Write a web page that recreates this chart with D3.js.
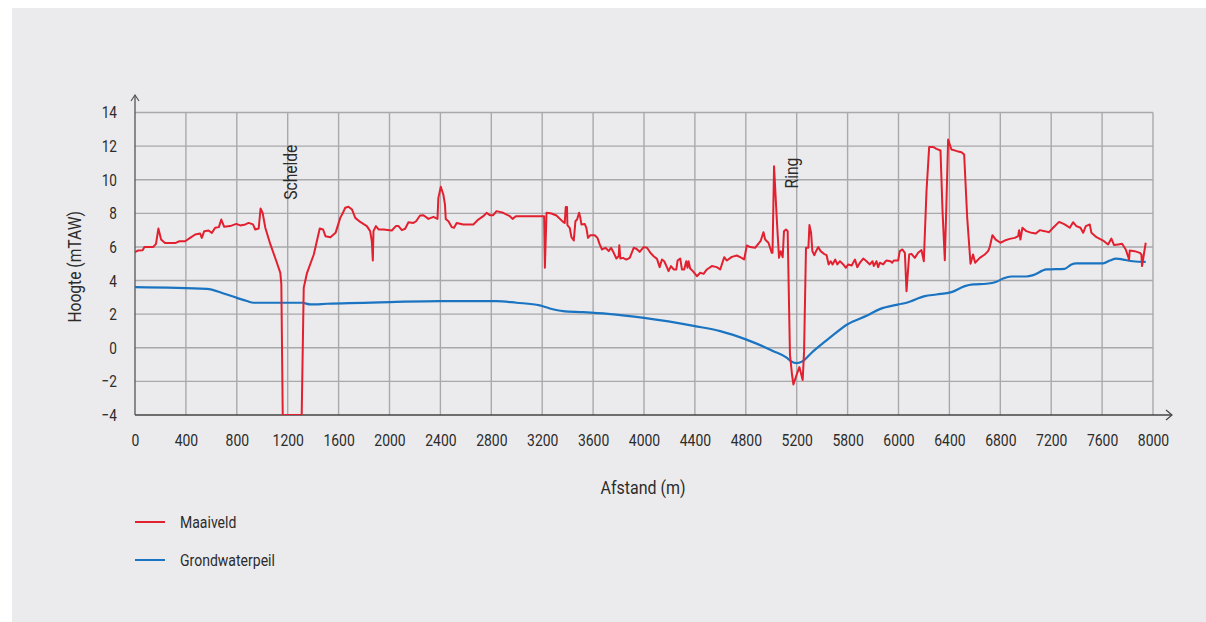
<!DOCTYPE html>
<html><head><meta charset="utf-8">
<script src="https://cdn.jsdelivr.net/npm/d3@7/dist/d3.min.js"></script>
<style>
html,body{margin:0;padding:0;background:#fff;}
svg{display:block;}
text{font-family:"Roboto",sans-serif;fill:#2b2b2b;}
</style></head>
<body>
<svg id="chart" width="1206" height="622"></svg>
<script>
// Maaiveld (ground level) — distance (m), height (mTAW)
const maaiveldX = [0,26,60,74,105,144,165,184,205,236,315,349,394,433,473,512,525,544,578,604,630,659,678,701,748,796,827,867,893,927,945,972,987,1003,1024,1064,1111,1142,1150,1161,1310,1326,1352,1405,1452,1478,1497,1536,1576,1613,1634,1652,1678,1705,1731,1770,1822,1848,1861,1869,1874,1893,1914,1953,2018,2050,2071,2097,2123,2149,2188,2209,2240,2267,2306,2345,2377,2384,2403,2423,2436,2442,2463,2489,2507,2528,2580,2659,2698,2737,2763,2789,2815,2841,2893,2946,2967,2993,3103,3215,3221,3234,3273,3312,3364,3377,3385,3395,3398,3416,3430,3448,3461,3474,3490,3500,3508,3534,3547,3560,3579,3613,3634,3652,3670,3697,3723,3741,3762,3783,3801,3806,3814,3835,3861,3888,3919,3940,3966,3997,4024,4050,4076,4102,4123,4141,4159,4180,4193,4212,4233,4254,4264,4285,4298,4316,4332,4342,4350,4363,4384,4416,4442,4468,4494,4533,4572,4599,4630,4651,4690,4729,4768,4787,4808,4834,4873,4899,4918,4939,4952,4978,4991,5004,5010,5022,5043,5061,5074,5090,5100,5116,5129,5147,5163,5174,5200,5221,5247,5258,5273,5292,5300,5313,5323,5339,5352,5370,5388,5414,5435,5451,5467,5482,5503,5519,5540,5566,5587,5605,5632,5658,5676,5697,5723,5749,5775,5796,5806,5827,5840,5853,5880,5893,5906,5937,5950,5963,5997,6010,6031,6050,6063,6084,6102,6128,6154,6181,6199,6220,6241,6272,6298,6330,6346,6364,6377,6390,6416,6461,6495,6516,6540,6566,6586,6602,6639,6678,6704,6717,6738,6764,6801,6835,6874,6914,6940,6948,6958,6974,7005,7045,7079,7110,7149,7183,7215,7262,7306,7346,7372,7398,7430,7451,7472,7503,7516,7556,7608,7647,7673,7694,7726,7757,7786,7812,7817,7856,7896,7909,7914,7928,7943];
const maaiveldY = [5.69,5.79,5.81,6.0,5.99,6.0,6.18,7.1,6.44,6.23,6.23,6.34,6.34,6.54,6.74,6.8,6.54,6.94,6.98,6.84,7.14,7.18,7.63,7.2,7.24,7.37,7.28,7.34,7.43,7.34,7.04,7.1,8.29,8.03,7.14,6.15,5.15,4.46,3.77,-4,-4,3.57,4.46,5.55,7.1,7.04,6.64,6.58,6.84,7.73,8.03,8.33,8.39,8.23,7.73,7.49,7.24,6.94,6.34,5.19,6.94,7.24,7.04,7.04,6.98,7.24,7.24,7.0,7.08,7.47,7.43,7.53,7.87,7.89,7.67,7.79,7.67,8.92,9.58,9.12,8.52,7.67,7.53,7.18,7.14,7.43,7.34,7.34,7.63,7.83,8.03,7.89,7.89,8.13,8.03,7.83,7.67,7.83,7.83,7.83,4.76,8.03,7.99,7.87,7.49,7.43,8.37,8.37,7.3,7.14,6.58,6.38,7.53,7.63,8.03,7.73,7.34,7.37,7.14,6.54,6.7,6.7,6.54,6.15,5.85,5.95,5.75,5.95,5.65,5.31,5.45,6.1,5.31,5.35,5.25,5.35,5.95,5.89,5.71,5.99,5.95,5.65,5.45,5.29,4.8,5.25,5.15,4.8,4.56,4.86,4.66,4.66,5.19,5.31,4.66,4.66,5.15,4.76,5.15,4.72,4.56,4.26,4.46,4.4,4.66,4.86,4.8,4.66,5.39,5.19,5.41,5.49,5.35,5.25,6.09,5.99,5.95,6.19,6.38,6.88,6.44,6.25,5.95,5.65,5.65,10.8,7.73,5.35,5.75,5.39,6.94,7.04,6.94,-0.4,-1.59,-2.18,-1.59,-1.15,-1.92,-0.2,5.95,5.95,7.3,6.84,5.75,5.51,5.75,5.99,5.75,5.59,5.51,4.96,5.15,4.96,5.25,4.96,5.15,4.96,4.76,4.96,4.9,5.25,4.8,5.06,5.31,5.15,4.96,5.15,4.86,5.15,4.8,5.06,4.96,5.1,5.19,5.15,5.06,5.19,5.19,5.75,5.85,5.65,3.37,5.55,5.59,5.35,5.65,5.81,5.15,9.32,11.95,11.95,11.84,11.74,8.13,5.21,8.72,12.39,11.8,11.7,11.64,11.5,7.73,5.0,5.55,5.06,5.35,5.55,5.75,5.99,6.7,6.44,6.25,6.38,6.48,6.54,6.64,7.0,6.44,7.14,6.94,6.84,6.8,7.0,6.94,6.88,7.14,7.49,7.34,7.14,7.47,7.24,7.14,6.84,7.24,7.34,6.84,6.58,6.38,6.15,6.5,6.11,6.15,6.19,5.85,5.25,5.79,5.75,5.65,5.55,4.86,5.55,6.25];

// Grondwaterpeil (groundwater level)
const grondwaterX = [0,565,696,801,880,932,1090,1313,1379,1510,2005,2397,2841,2998,3181,3260,3364,3521,3717,4000,4400,4599,4800,5017,5121,5161,5200,5239,5331,5461,5600,5749,5853,6000,6063,6207,6298,6416,6521,6586,6691,6770,6822,6888,7005,7058,7162,7306,7359,7398,7608,7660,7712,7765,7843,7943];
const grondwaterY = [3.61,3.51,3.23,2.97,2.78,2.68,2.68,2.68,2.58,2.62,2.72,2.78,2.78,2.68,2.52,2.34,2.18,2.12,2.02,1.78,1.29,0.99,0.5,-0.2,-0.59,-0.83,-0.91,-0.83,-0.2,0.6,1.4,1.9,2.3,2.58,2.68,3.07,3.17,3.31,3.67,3.77,3.81,3.93,4.12,4.24,4.24,4.32,4.66,4.7,4.96,5.02,5.02,5.19,5.31,5.25,5.15,5.11];

const xTickValues = [0,400,800,1200,1600,2000,2400,2800,3200,3600,4000,4400,4800,5200,5600,6000,6400,6800,7200,7600,8000];
const xTickLabels = ["0","400","800","1200","1600","2000","2400","2800","3200","3600","4000","4400","4800","5200","5800","6000","6400","6800","7200","7600","8000"];
const yTickValues = [-4,-2,0,2,4,6,8,10,12,14];

const annotations = [{label:"Schelde", x:1273, y:10.45},{label:"Ring", x:5211, y:10.4}];
const seriesNames = ["Maaiveld","Grondwaterpeil"];
const seriesColors = ["#e2202f","#1a74c1"];

// emulate a condensed typeface
function condense(sel, f){
  sel.each(function(){
    const l = this.getComputedTextLength();
    d3.select(this).attr("textLength", l*f).attr("lengthAdjust","spacingAndGlyphs");
  });
}

const svg = d3.select("#chart");
svg.append("rect").attr("x",12).attr("y",8).attr("width",1194).attr("height",614).attr("fill","#ebebed");

const x = d3.scaleLinear().domain([0,8000]).range([135,1153]);
const y = d3.scaleLinear().domain([-4,14]).range([415,112.5]);

const g = svg.append("g");
// grid
g.append("g").selectAll("line").data(xTickValues.filter(d=>d>0)).join("line")
  .attr("x1",d=>x(d)).attr("x2",d=>x(d)).attr("y1",y(-4)).attr("y2",y(14))
  .attr("stroke","#a9a9ab").attr("stroke-width",1.4);
g.append("g").selectAll("line").data(yTickValues.filter(d=>d>-4)).join("line")
  .attr("x1",x(0)).attr("x2",x(8000)).attr("y1",d=>y(d)).attr("y2",d=>y(d))
  .attr("stroke","#a9a9ab").attr("stroke-width",1.4);

// axes
const xAxis = d3.axisBottom(x).tickValues(xTickValues).tickSize(0).tickPadding(19)
  .tickFormat((d,i)=>xTickLabels[i]);
const gx = svg.append("g").attr("transform",`translate(0,${y(-4)})`).call(xAxis);
gx.select(".domain").remove();
gx.selectAll("text").style("font-size","17px").style("font-family","Roboto").attr("fill","#2b2b2b").call(condense,0.82);

const yAxis = d3.axisLeft(y).tickValues(yTickValues).tickSize(0).tickPadding(18);
const gy = svg.append("g").attr("transform",`translate(${x(0)},0)`).call(yAxis);
gy.select(".domain").remove();
gy.selectAll("text").style("font-size","17px").style("font-family","Roboto").attr("fill","#2b2b2b").call(condense,0.8);

// axis lines with arrows
svg.append("line").attr("x1",x(0)).attr("x2",1172).attr("y1",y(-4)).attr("y2",y(-4)).attr("stroke","#444").attr("stroke-width",1.3);
svg.append("path").attr("d",`M1166,${y(-4)-5}L1172,${y(-4)}L1166,${y(-4)+5}`).attr("fill","none").attr("stroke","#444").attr("stroke-width",1.2);
svg.append("line").attr("x1",x(0)).attr("x2",x(0)).attr("y1",y(-4)).attr("y2",95).attr("stroke","#555").attr("stroke-width",1.3);
svg.append("path").attr("d",`M${x(0)-4},101L${x(0)},95L${x(0)+4},101`).attr("fill","none").attr("stroke","#555").attr("stroke-width",1.2);

// clip
svg.append("clipPath").attr("id","clip").append("rect")
  .attr("x",x(0)).attr("y",y(14)-20).attr("width",x(8000)-x(0)+5).attr("height",y(-4)-y(14)+20);

const line = d3.line().x(d=>x(d[0])).y(d=>y(d[1]));
const smooth = d3.line().x(d=>x(d[0])).y(d=>y(d[1])).curve(d3.curveMonotoneX);
const plot = svg.append("g").attr("clip-path","url(#clip)");
plot.append("path").datum(grondwaterX.map((v,i)=>[v,grondwaterY[i]]))
  .attr("d",smooth).attr("fill","none").attr("stroke",seriesColors[1]).attr("stroke-width",2.2).attr("stroke-linejoin","round");
plot.append("path").datum(maaiveldX.map((v,i)=>[v,maaiveldY[i]]))
  .attr("d",line).attr("fill","none").attr("stroke",seriesColors[0]).attr("stroke-width",2).attr("stroke-linejoin","round");

// annotations
annotations.forEach(a=>{
  svg.append("text").attr("transform",`translate(${x(a.x)},${y(a.y)}) rotate(-90)`)
    .attr("text-anchor","middle").style("font-size","19px").text(a.label).call(condense,0.82);
});

// axis titles
svg.append("text").attr("transform",`translate(81,${(y(-4)+y(14))/2+3}) rotate(-90)`)
  .attr("text-anchor","middle").style("font-size","19px").text("Hoogte (mTAW)").call(condense,0.82);
svg.append("text").attr("x",643).attr("y",494).attr("text-anchor","middle").style("font-size","19px").text("Afstand (m)").call(condense,0.84);

// legend
seriesNames.forEach((n,i)=>{
  const yy = 522 + i*38;
  svg.append("line").attr("x1",135).attr("x2",165).attr("y1",yy).attr("y2",yy).attr("stroke",seriesColors[i]).attr("stroke-width",2);
  svg.append("text").attr("x",180).attr("y",yy+6).style("font-size","16.5px").text(n).call(condense,0.85);
});
</script>
</body></html>
